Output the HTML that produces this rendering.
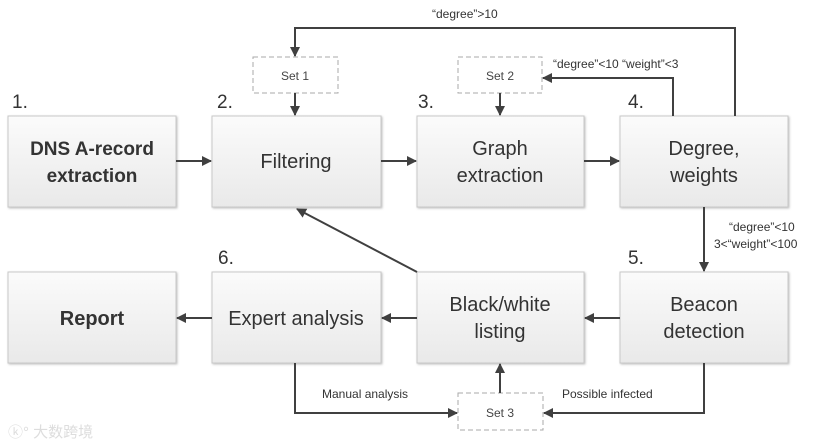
<!DOCTYPE html>
<html><head><meta charset="utf-8"><style>
html,body{margin:0;padding:0;background:#fff;}
svg{display:block;font-family:"Liberation Sans",sans-serif;}
</style></head><body>
<svg width="840" height="445" viewBox="0 0 840 445" xmlns="http://www.w3.org/2000/svg">
<defs>
<linearGradient id="g" x1="0" y1="0" x2="0" y2="1">
<stop offset="0" stop-color="#fbfbfb"/><stop offset="1" stop-color="#e9e9e9"/>
</linearGradient>
<marker id="a" markerWidth="10" markerHeight="10" refX="9" refY="5" orient="auto" markerUnits="userSpaceOnUse">
<path d="M0,0 L10,5 L0,10 Z" fill="#404040"/>
</marker>
<filter id="s"><feDropShadow dx="1" dy="1" stdDeviation="1" flood-color="#999" flood-opacity="0.6"/></filter>
</defs>
<g fill="url(#g)" stroke="#c8c8c8" stroke-width="1" filter="url(#s)">
<rect x="8" y="116" width="168" height="91"/>
<rect x="212" y="116" width="169" height="91"/>
<rect x="417" y="116" width="167" height="91"/>
<rect x="620" y="116" width="168" height="91"/>
<rect x="8" y="272" width="168" height="91"/>
<rect x="212" y="272" width="169" height="91"/>
<rect x="417" y="272" width="167" height="91"/>
<rect x="620" y="272" width="168" height="91"/>
</g>
<g fill="none" stroke="#aaa" stroke-dasharray="5,3">
<rect x="253" y="57" width="85" height="36"/>
<rect x="458" y="57" width="84" height="36"/>
<rect x="458" y="393" width="85" height="37"/>
</g>
<g stroke="#404040" stroke-width="2" fill="none" marker-end="url(#a)">
<line x1="176" y1="161" x2="211" y2="161"/>
<line x1="381" y1="161" x2="416" y2="161"/>
<line x1="584" y1="161" x2="619" y2="161"/>
<line x1="295" y1="93" x2="295" y2="115"/>
<line x1="500" y1="93" x2="500" y2="115"/>
<polyline points="735,116 735,28 295,28 295,56"/>
<polyline points="673,116 673,78 543,78"/>
<line x1="704" y1="207" x2="704" y2="271"/>
<line x1="620" y1="318" x2="585" y2="318"/>
<line x1="417" y1="318" x2="382" y2="318"/>
<line x1="212" y1="318" x2="177" y2="318"/>
<line x1="417" y1="272" x2="297" y2="209"/>
<polyline points="295,363 295,413 457,413"/>
<polyline points="704,363 704,413 544,413"/>
<line x1="500" y1="393" x2="500" y2="364"/>
</g>
<g fill="#333" font-size="20" text-anchor="middle">
<text x="92" y="155" font-weight="bold" font-size="19">DNS A-record</text>
<text x="92" y="182" font-weight="bold" font-size="19">extraction</text>
<text x="296" y="168">Filtering</text>
<text x="500" y="155">Graph</text>
<text x="500" y="182">extraction</text>
<text x="704" y="155">Degree,</text>
<text x="704" y="182">weights</text>
<text x="92" y="325" font-weight="bold">Report</text>
<text x="296" y="325">Expert analysis</text>
<text x="500" y="311">Black/white</text>
<text x="500" y="338">listing</text>
<text x="704" y="311">Beacon</text>
<text x="704" y="338">detection</text>
</g>
<g fill="#333" font-size="19">
<text x="12" y="108">1.</text>
<text x="217" y="108">2.</text>
<text x="418" y="108">3.</text>
<text x="628" y="108">4.</text>
<text x="628" y="264">5.</text>
<text x="218" y="264">6.</text>
</g>
<g fill="#444" font-size="12" text-anchor="middle">
<text x="295" y="80">Set 1</text>
<text x="500" y="80">Set 2</text>
<text x="500" y="417">Set 3</text>
</g>
<g fill="#333" font-size="12">
<text x="432" y="18">“degree”&gt;10</text>
<text x="553" y="68">“degree”&lt;10  “weight”&lt;3</text>
<text x="729" y="231">“degree”&lt;10</text>
<text x="714" y="248">3&lt;“weight”&lt;100</text>
<text x="322" y="398">Manual analysis</text>
<text x="562" y="398">Possible infected</text>
</g>
<text x="8" y="437" font-size="15" fill="#ddd" font-family="'Liberation Sans','Noto Sans CJK SC',sans-serif">ⓚ° 大数跨境</text>
</svg>
</body></html>
